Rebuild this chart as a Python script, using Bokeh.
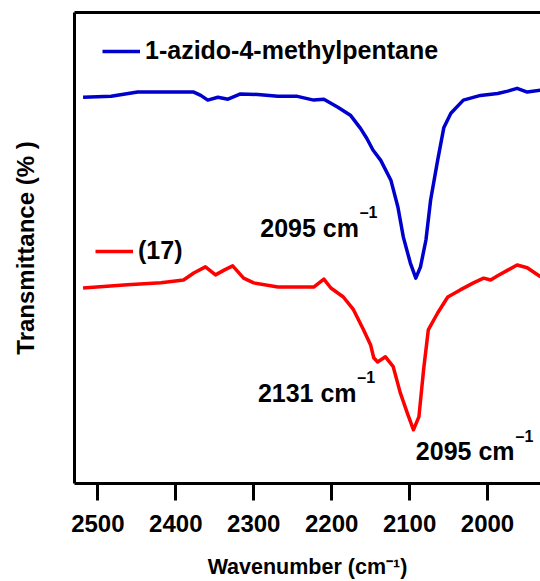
from bokeh.plotting import figure
from bokeh.models import (Range1d, FixedTicker, LinearAxis, Label, Legend, LegendItem)
from bokeh.embed import file_html
from bokeh.resources import INLINE

# ---- data ----
blue_wn = [2519, 2483, 2449, 2377, 2368, 2359, 2346, 2333, 2317, 2295, 2269, 2244, 2223, 2210,
           2192, 2176, 2163, 2155, 2147, 2137, 2124, 2115, 2108, 2099, 2092, 2086, 2079, 2073,
           2064, 2056, 2047, 2031, 2009, 1987, 1974, 1962, 1949, 1932]
blue_t = [82.0, 82.2, 83.1, 83.1, 82.4, 81.4, 82.0, 81.6, 82.7, 82.6, 82.2, 82.2, 81.4, 81.6,
          79.9, 78.2, 75.4, 73.3, 70.8, 68.6, 64.4, 58.7, 52.3, 46.8, 43.6, 46.0, 51.7, 60.2,
          68.6, 75.6, 78.6, 81.4, 82.4, 82.8, 83.3, 83.9, 83.1, 83.5]

red_wn = [2519, 2462, 2419, 2390, 2377, 2362, 2349, 2338, 2327, 2313, 2300, 2269, 2223, 2210,
          2201, 2185, 2172, 2159, 2150, 2146, 2141, 2131, 2121, 2112, 2103, 2095, 2088, 2082,
          2076, 2064, 2051, 2035, 2018, 2005, 1996, 1987, 1974, 1962, 1949, 1932]
red_t = [41.5, 42.2, 42.6, 43.2, 44.7, 46.0, 44.3, 45.3, 46.2, 43.6, 42.6, 41.7, 41.7, 43.4,
         41.5, 39.6, 36.9, 32.6, 29.4, 26.7, 25.8, 26.9, 24.8, 19.3, 15.0, 11.4, 14.2, 24.2,
         32.6, 36.2, 39.6, 41.1, 42.6, 43.6, 43.2, 44.1, 45.3, 46.4, 45.8, 43.9]

x_ticks = [2500, 2400, 2300, 2200, 2100, 2000]
series_names = ["1-azido-4-methylpentane", "(17)"]
peak_labels = ["2095 cm", "2131 cm", "2095 cm"]

FONT = "Liberation Sans"
BLUE = "#0000CC"
RED = "#FF0000"

p = figure(width=540, height=581, x_range=Range1d(2530, 1932), y_range=Range1d(0, 100),
           output_backend="svg", toolbar_location=None,
           min_border_left=74, min_border_right=0, min_border_top=12, min_border_bottom=97)
p.outline_line_color = None
p.xgrid.visible = False
p.ygrid.visible = False
p.background_fill_color = "white"
p.border_fill_color = "white"

# bottom axis
xa = p.xaxis[0]
xa.ticker = FixedTicker(ticks=x_ticks)
xa.minor_tick_line_color = None
xa.major_tick_in = 0
xa.major_tick_out = 17
xa.major_tick_line_width = 3
xa.axis_line_width = 3
xa.axis_line_color = "black"
xa.major_tick_line_color = "black"
xa.major_label_text_font = FONT
xa.major_label_text_font_style = "bold"
xa.major_label_text_font_size = "24px"
xa.major_label_text_color = "black"
xa.major_label_standoff = 14
xa.axis_label = "Wavenumber (cm\u207b\u00b9)"
xa.axis_label_text_font = FONT
xa.axis_label_text_font_style = "bold"
xa.axis_label_text_font_size = "21.5px"
xa.axis_label_text_color = "black"
xa.axis_label_standoff = 20

# left axis (frame line + title)
ya = p.yaxis[0]
ya.ticker = FixedTicker(ticks=[])
ya.minor_tick_line_color = None
ya.major_tick_line_color = None
ya.axis_line_width = 3
ya.axis_line_color = "black"
ya.major_label_standoff = 0
ya.major_tick_out = 0
ya.axis_label = "Transmittance (% )"
ya.axis_label_text_font = FONT
ya.axis_label_text_font_style = "bold"
ya.axis_label_text_font_size = "24px"
ya.axis_label_text_color = "black"
ya.axis_label_standoff = 36

# top frame line
ta = LinearAxis(ticker=FixedTicker(ticks=[]), axis_line_width=3, axis_line_color="black",
                major_tick_line_color=None, minor_tick_line_color=None,
                major_tick_out=0, major_label_standoff=0)
p.add_layout(ta, "above")

# curves
rb = p.line(blue_wn, blue_t, line_color=BLUE, line_width=3.5, line_join="round")
rr = p.line(red_wn, red_t, line_color=RED, line_width=3.5, line_join="round")

# legends
def make_legend(name, r, loc):
    lg = Legend(items=[LegendItem(label=name, renderers=[r])], location=loc,
                glyph_width=38, glyph_height=28, label_height=28, label_standoff=5,
                padding=0, margin=0, spacing=0, border_line_color=None,
                background_fill_alpha=0, label_text_font=FONT,
                label_text_font_style="bold", label_text_font_size="25px",
                label_text_color="black")
    p.add_layout(lg, "center")

make_legend(series_names[0], rb, (28, 418))
make_legend(series_names[1], rr, (21, 218))

# peak annotations (data coordinates)
def ann(text, x, y, align, size="25px"):
    p.add_layout(Label(x=x, y=y, text=text, text_align=align, text_baseline="middle",
                       text_font=FONT, text_font_style="bold", text_font_size=size,
                       text_color="black"))

ann(peak_labels[0], 2165, 54.2, "right")
ann("\u20131", 2164, 57.6, "left", "16px")
ann(peak_labels[1], 2168, 19.3, "right")
ann("\u20131", 2167, 22.4, "left", "16px")
ann(peak_labels[2], 2092, 6.8, "left")
ann("\u20131", 1964, 9.9, "left", "16px")

open("out.html", "w").write(file_html(p, INLINE))
